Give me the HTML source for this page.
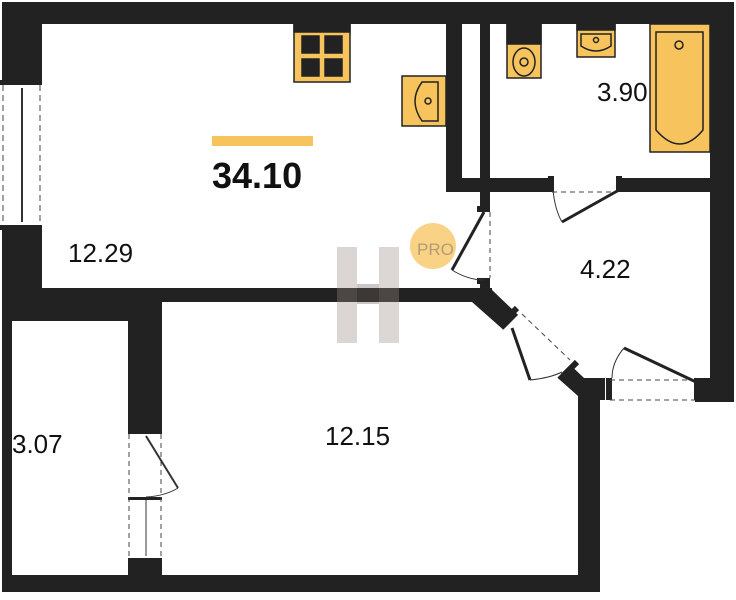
<!DOCTYPE html>
<html><head><style>body{margin:0;background:#fff}svg{display:block}</style></head><body>
<svg width="736" height="600" viewBox="0 0 736 600" xmlns="http://www.w3.org/2000/svg" font-family="Liberation Sans, sans-serif">
<rect width="736" height="600" fill="#fff"/>
<g fill="#222">
<rect x="2" y="2" width="732" height="22"/>
<rect x="2" y="2" width="40" height="300"/>
<rect x="710" y="2" width="24" height="400"/>
<rect x="446" y="2" width="16" height="190"/>
<rect x="480" y="2" width="10" height="190"/>
<rect x="446" y="178" width="288" height="14"/>
<rect x="480" y="192" width="10" height="98"/>
<rect x="2" y="288" width="490" height="14"/>
<rect x="2" y="288" width="10" height="304"/>
<rect x="2" y="302" width="160" height="19"/>
<rect x="128" y="302" width="34" height="290"/>
<rect x="2" y="575" width="598" height="17"/>
<rect x="578" y="378" width="22" height="214"/>
<rect x="695" y="378" width="39" height="24"/>
<polygon points="474,288 490,288 584,378 605,378 605,400 578,400 578,396 472,302"/>
</g>
<!-- left window -->
<rect x="2" y="83" width="40" height="145" fill="#fff"/>
<rect x="0" y="80" width="42" height="5" fill="#222"/><rect x="0" y="225" width="42" height="5" fill="#222"/>
<line x1="3" y1="85" x2="3" y2="225" stroke="#444" stroke-dasharray="6,4"/>
<line x1="40" y1="85" x2="40" y2="225" stroke="#444" stroke-dasharray="6,4"/>
<line x1="22" y1="88" x2="22" y2="222" stroke="#333" stroke-width="2"/>
<!-- inner shaft -->
<rect x="462" y="24" width="18" height="146" fill="#fff"/>
<!-- door to bath -->
<rect x="552" y="178" width="66" height="14" fill="#fff"/>
<rect x="548" y="176" width="6" height="16" fill="#222"/><rect x="616" y="176" width="6" height="16" fill="#222"/>
<line x1="552" y1="192" x2="618" y2="192" stroke="#444" stroke-dasharray="5,4"/>
<line x1="619" y1="190" x2="562" y2="222" stroke="#222" stroke-width="3"/>
<path d="M553 190 Q555 210 562 222" fill="none" stroke="#333"/>
<!-- door kitchen-corridor -->
<rect x="478" y="210" width="12" height="70" fill="#fff"/>
<rect x="477" y="206" width="13" height="6" fill="#222"/><rect x="477" y="278" width="13" height="6" fill="#222"/>
<line x1="490" y1="212" x2="490" y2="278" stroke="#444" stroke-dasharray="5,4"/>
<line x1="484" y1="212" x2="452" y2="270" stroke="#222" stroke-width="3"/>
<path d="M452 270 Q468 280 484 280" fill="none" stroke="#333"/>
<!-- diagonal door -->
<polygon points="503,330 523,310 575,360 555,380" fill="#fff"/>
<line x1="503" y1="322" x2="517" y2="308" stroke="#222" stroke-width="6"/>
<line x1="563" y1="376" x2="577" y2="362" stroke="#222" stroke-width="6"/>
<line x1="522" y1="314" x2="570" y2="360" stroke="#444" stroke-dasharray="5,4"/>
<line x1="512" y1="328" x2="530" y2="380" stroke="#222" stroke-width="3"/>
<path d="M530 380 Q550 378 562 372" fill="none" stroke="#333"/>
<!-- bottom right door -->
<rect x="610" y="378" width="85" height="24" fill="#fff"/>
<rect x="606" y="378" width="6" height="22" fill="#222"/><rect x="694" y="378" width="6" height="22" fill="#222"/>
<line x1="610" y1="380" x2="695" y2="380" stroke="#444" stroke-dasharray="5,4"/>
<line x1="610" y1="400" x2="695" y2="400" stroke="#444" stroke-dasharray="5,4"/>
<line x1="696" y1="382" x2="624" y2="348" stroke="#222" stroke-width="3"/>
<path d="M624 348 Q612 362 612 378" fill="none" stroke="#333"/>
<!-- storage door/window -->
<rect x="128" y="432" width="34" height="130" fill="#fff"/>
<rect x="128" y="431" width="34" height="3" fill="#222"/><rect x="128" y="497" width="34" height="3" fill="#222"/><rect x="128" y="558" width="34" height="4" fill="#222"/>
<line x1="129" y1="434" x2="129" y2="558" stroke="#444" stroke-dasharray="5,4"/>
<line x1="161" y1="434" x2="161" y2="558" stroke="#444" stroke-dasharray="5,4"/>
<line x1="146" y1="436" x2="178" y2="488" stroke="#333" stroke-width="2"/>
<path d="M178 488 Q165 496 146 497" fill="none" stroke="#333"/>
<line x1="146" y1="500" x2="146" y2="556" stroke="#333"/>
<!-- fixtures -->
<g stroke="#222" stroke-width="1.5">
<rect x="294" y="24" width="56" height="58" fill="#F7C35C"/>
<rect x="294" y="24" width="56" height="8" fill="#222"/>
<rect x="302" y="36" width="17" height="17" fill="#222"/><rect x="325" y="36" width="17" height="17" fill="#222"/>
<rect x="302" y="59" width="17" height="17" fill="#222"/><rect x="325" y="59" width="17" height="17" fill="#222"/>
<rect x="402" y="76" width="44" height="50" fill="#F7C35C"/>
<path d="M438 82 L422 82 Q408 101 422 121 L438 121 Z" fill="#F7C35C"/><circle cx="428" cy="101" r="3" fill="none"/>
<rect x="507" y="24" width="34" height="54" fill="#F7C35C"/>
<rect x="507" y="24" width="34" height="20" fill="#222"/>
<ellipse cx="524" cy="62" rx="11" ry="14" fill="#F7C35C"/><circle cx="524" cy="62" r="4" fill="none"/>
<rect x="577" y="24" width="38" height="33" fill="#F7C35C"/>
<rect x="577" y="24" width="38" height="6" fill="#222"/>
<path d="M581 34 L611 34 L611 46 Q596 56 581 46 Z" fill="#F7C35C"/><circle cx="596" cy="40" r="2.5" fill="none"/>
<rect x="650" y="24" width="60" height="128" fill="#F7C35C"/>
<path d="M656 32 L703 32 L703 130 Q680 158 656 130 Z" fill="#F7C35C"/><circle cx="679" cy="45" r="4" fill="none"/>
</g>
<!-- watermark -->
<g opacity="0.35">
<rect x="337" y="247" width="20" height="96" fill="#9a8c84"/>
<rect x="379" y="247" width="20" height="96" fill="#9a8c84"/>
<rect x="357" y="284" width="22" height="20" fill="#6e625a"/>
</g>
<circle cx="433" cy="246" r="23" fill="#F7C35C" opacity="0.75"/>
<text x="417" y="255" font-size="17" fill="#b39c78">PRO</text>
<!-- labels -->
<rect x="212" y="136" width="101" height="10" fill="#F7C35C"/>
<text x="212" y="188" font-size="36" font-weight="bold" fill="#111">34.10</text>
<text x="68" y="262" font-size="26" fill="#111">12.29</text>
<text x="597" y="101" font-size="26" fill="#111">3.90</text>
<text x="580" y="278" font-size="26" fill="#111">4.22</text>
<text x="325" y="445" font-size="26" fill="#111">12.15</text>
<text x="12" y="453" font-size="26" fill="#111">3.07</text>
</svg>
</body></html>
